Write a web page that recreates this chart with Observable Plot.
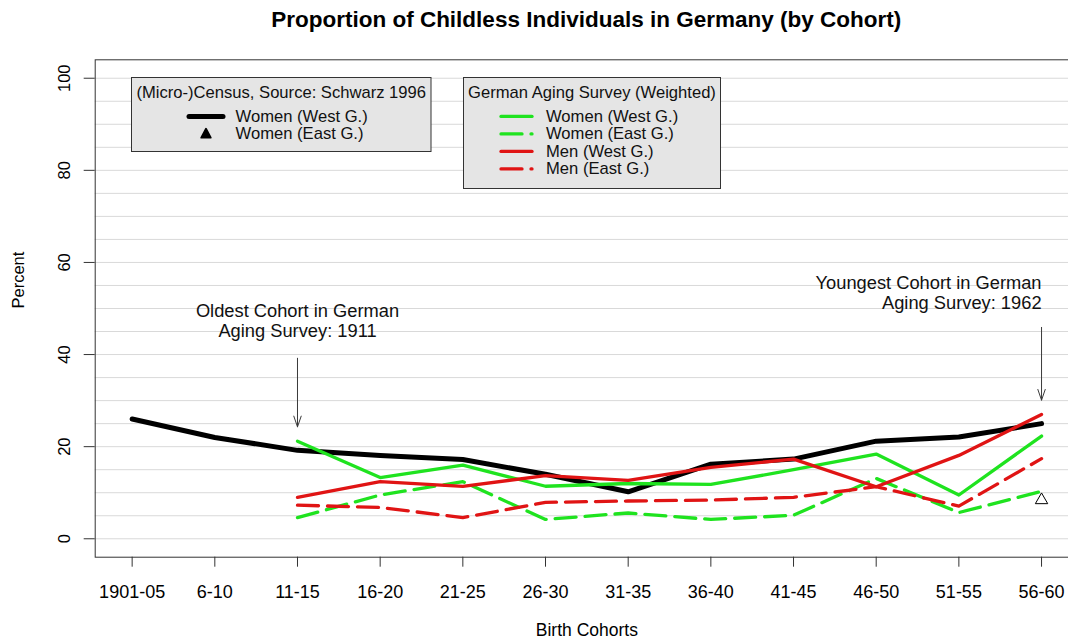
<!DOCTYPE html>
<html><head><meta charset="utf-8">
<script src="https://cdn.jsdelivr.net/npm/d3@7"></script>
<script src="https://cdn.jsdelivr.net/npm/@observablehq/plot@0.6"></script>
<style>
html,body{margin:0;padding:0;background:#fff;overflow:hidden;}
#wrap{position:relative;width:1078px;height:644px;font-family:"Liberation Sans",Arial,sans-serif;}
#title{position:absolute;left:94.7px;width:983px;top:0;height:40px;line-height:40px;text-align:center;font-weight:bold;font-size:22.5px;color:#000;}
#chart{position:absolute;left:0;top:40px;}
</style></head><body>
<div id="wrap">
<div id="title">Proportion of Childless Individuals in Germany (by Cohort)</div>
<div id="chart"></div>
</div>
<script>
// ---- data ----
const cohorts = ["1901-05","6-10","11-15","16-20","21-25","26-30","31-35","36-40","41-45","46-50","51-55","56-60"];
const censusWomenWest = [26.0, 22.0, 19.2, 18.1, 17.2, 14.0, 10.2, 16.2, 17.3, 21.2, 22.1, 25.0];
const censusWomenEast = [null, null, null, null, null, null, null, null, null, null, null, 8.4];
const gasWomenWest = [null, null, 21.2, 13.3, 16.0, 11.4, 12.0, 11.8, 15.0, 18.4, 9.5, 22.3];
const gasWomenEast = [null, null, 4.6, 9.5, 12.4, 4.2, 5.6, 4.2, 5.1, 13.1, 5.7, 10.3];
const gasMenWest = [null, null, 9.0, 12.4, 11.4, 13.7, 12.7, 15.5, 17.3, 11.3, 18.1, 27.0];
const gasMenEast = [null, null, 7.3, 6.8, 4.6, 7.9, 8.2, 8.4, 9.0, 11.3, 7.1, 17.4];
const yTicks = [0, 20, 40, 60, 80, 100];
const gridValues = d3.range(0, 101, 5);

const annotationCohorts = ["11-15", "56-60"];
const annotationTexts = ["Oldest Cohort in German\nAging Survey: 1911", "Youngest Cohort in German\nAging Survey: 1962"];
const annotationTextY = [47.3, 53.4];
const annotationArrowFrom = [39.2, 45.9];
const annotationArrowTo = [24.3, 30.1];

const legendCensusTitle = "(Micro-)Census, Source: Schwarz 1996";
const legendCensusLabels = ["Women (West G.)", "Women (East G.)"];
const legendGasTitle = "German Aging Survey (Weighted)";
const legendGasLabels = ["Women (West G.)", "Women (East G.)", "Men (West G.)", "Men (East G.)"];

// ---- styles ----
const GREEN = "#1fe31f", RED = "#e01414", BLACK = "#000";
const DASH = "21,9";
const FONT = "'Liberation Sans', Arial, sans-serif";
const seriesStyles = [
  {values: censusWomenWest, stroke: BLACK, width: 5, dash: null},
  {values: gasWomenWest, stroke: GREEN, width: 3.3, dash: null},
  {values: gasWomenEast, stroke: GREEN, width: 3.3, dash: DASH},
  {values: gasMenWest, stroke: RED, width: 3.3, dash: null},
  {values: gasMenEast, stroke: RED, width: 3.3, dash: DASH}
];

const toRows = vals => vals.map((v, i) => ({i, cohort: cohorts[i], value: v})).filter(d => d.value != null);
const annotations = annotationCohorts.map((c, k) => ({
  i: cohorts.indexOf(c), text: annotationTexts[k], ty: annotationTextY[k],
  y1: annotationArrowFrom[k], y2: annotationArrowTo[k]
}));
const last = cohorts.length - 1;

const lineMarks = seriesStyles.map(s => Plot.line(toRows(s.values), {
  x: "i", y: "value", stroke: s.stroke, strokeWidth: s.width,
  strokeDasharray: s.dash ?? undefined, strokeLinecap: "round", strokeLinejoin: "round"
}));

const chart = Plot.plot({
  width: 1078, height: 604,
  marginLeft: 94.7, marginRight: 0, marginTop: 19.3, marginBottom: 87.3,
  style: {fontFamily: FONT, fontSize: "17px", color: "#000", background: "#fff", maxWidth: "none", overflow: "visible"},
  x: {type: "linear", domain: [-0.447, 11.447]},
  y: {domain: [-4, 104]},
  marks: [
    Plot.ruleY(gridValues, {stroke: "#d9d9d9", strokeWidth: 1}),
    ...lineMarks,
    Plot.dot(toRows(censusWomenEast), {x: "i", y: "value", symbol: "triangle", r: 4.6, stroke: BLACK, fill: "none", strokeWidth: 1}),
    Plot.arrow(annotations, {x: "i", y1: "y1", y2: "y2", stroke: "#3a3a3a", strokeWidth: 1, headLength: 17, headAngle: 38}),
    Plot.text(annotations.filter(d => d.i !== last), {x: "i", y: "ty", text: "text", textAnchor: "middle", lineAnchor: "middle", lineHeight: 1.1, fontSize: 18.3, fill: "#111"}),
    Plot.text(annotations.filter(d => d.i === last), {x: "i", y: "ty", text: "text", textAnchor: "end", lineAnchor: "middle", lineHeight: 1.1, fontSize: 18.3, fill: "#111"}),
    Plot.frame({stroke: "#333", strokeWidth: 1}),
    Plot.axisX(d3.range(cohorts.length), {tickFormat: i => cohorts[i], tickSize: 10, tickPadding: 18, fontSize: 18, label: null, stroke: "#333"}),
    Plot.axisY(yTicks, {tickSize: 11, tickFormat: () => "", label: null, stroke: "#333"}),
    Plot.text(yTicks, {y: d => d, text: d => String(d), frameAnchor: "left", dx: -30.4, rotate: -90, fontSize: 16.5, textAnchor: "middle", lineAnchor: "middle"}),
    Plot.text(["Percent"], {text: d => d, frameAnchor: "left", dx: -76.4, rotate: -90, fontSize: 16.5, lineAnchor: "middle"}),
    Plot.text(["Birth Cohorts"], {text: d => d, frameAnchor: "bottom", dy: 73.3, fontSize: 17.5, lineAnchor: "middle"})
  ]
});
document.getElementById("chart").append(chart);

// ---- legends (overlay boxes) ----
function buildLegend(cfg) {
  const svg = d3.select("#wrap").append("svg")
    .style("position", "absolute").style("left", cfg.left + "px").style("top", cfg.top + "px")
    .attr("width", cfg.w).attr("height", cfg.h)
    .style("font-family", FONT).style("font-size", "16.6px");
  svg.append("rect").attr("x", 0.5).attr("y", 0.5).attr("width", cfg.w - 1).attr("height", cfg.h - 1)
    .attr("fill", "#e5e5e5").attr("stroke", "#333").attr("stroke-width", 1);
  svg.append("text").attr("x", cfg.w / 2).attr("y", 15).attr("text-anchor", "middle")
    .attr("dominant-baseline", "central").attr("fill", "#111").text(cfg.title);
  cfg.items.forEach((it, k) => {
    const y = 39.4 + k * 17.5;
    if (it.symbol) {
      const cx = (cfg.sx0 + cfg.sx1) / 2, s = 9.5;
      svg.append("path").attr("d", `M${cx},${y - s * 0.55}L${cx + s / 2},${y + s * 0.4}L${cx - s / 2},${y + s * 0.4}Z`)
        .attr("fill", "#000").attr("stroke", "#000").attr("stroke-width", 1.8).attr("stroke-linejoin", "round");
    } else {
      svg.append("line").attr("x1", cfg.sx0).attr("x2", cfg.sx1).attr("y1", y).attr("y2", y)
        .attr("stroke", it.stroke).attr("stroke-width", it.width)
        .attr("stroke-dasharray", it.dash || null).attr("stroke-linecap", "round");
    }
    svg.append("text").attr("x", cfg.tx).attr("y", y).attr("dominant-baseline", "central")
      .attr("fill", "#111").text(it.label);
  });
}
buildLegend({
  left: 131.4, top: 77.3, w: 300.5, h: 75, sx0: 58, sx1: 92, tx: 104.6,
  title: legendCensusTitle,
  items: [
    {label: legendCensusLabels[0], stroke: BLACK, width: 5},
    {label: legendCensusLabels[1], symbol: true}
  ]
});
buildLegend({
  left: 462.7, top: 77.3, w: 258, h: 112, sx0: 38, sx1: 69, tx: 83,
  title: legendGasTitle,
  items: [
    {label: legendGasLabels[0], stroke: GREEN, width: 3.3},
    {label: legendGasLabels[1], stroke: GREEN, width: 3.3, dash: DASH},
    {label: legendGasLabels[2], stroke: RED, width: 3.3},
    {label: legendGasLabels[3], stroke: RED, width: 3.3, dash: DASH}
  ]
});
</script>
</body></html>
